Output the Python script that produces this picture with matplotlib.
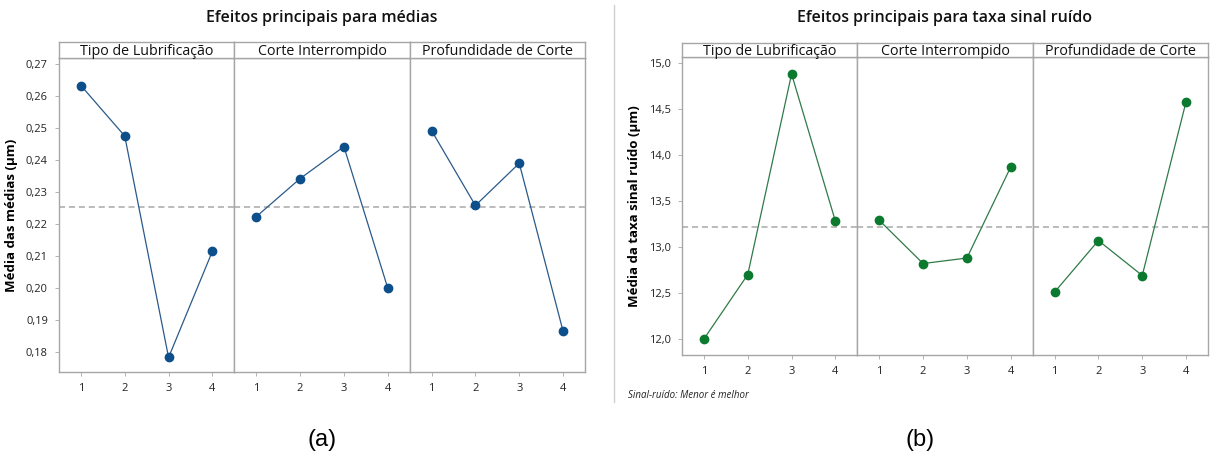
import matplotlib
matplotlib.use("Agg")
import matplotlib.pyplot as plt
from matplotlib.lines import Line2D
from matplotlib.ticker import FuncFormatter

plt.rcParams['font.family'] = ['Open Sans', 'DejaVu Sans']

factors = ["Tipo de Lubrificação", "Corte Interrompido", "Profundidade de Corte"]
levels = [1, 2, 3, 4]
level_labels = ["1", "2", "3", "4"]

# (a) means
means_tipo = [0.2633, 0.2475, 0.1783, 0.2115]
means_corte = [0.2223, 0.2342, 0.2442, 0.2000]
means_prof = [0.2492, 0.2258, 0.2390, 0.1865]
means_ref = 0.2253
means_yticks = [0.18, 0.19, 0.20, 0.21, 0.22, 0.23, 0.24, 0.25, 0.26, 0.27]

# (b) signal-noise
sn_tipo = [12.00, 12.70, 14.88, 13.28]
sn_corte = [13.29, 12.82, 12.88, 13.87]
sn_prof = [12.51, 13.07, 12.69, 14.58]
sn_ref = 13.215
sn_yticks = [12.0, 12.5, 13.0, 13.5, 14.0, 14.5, 15.0]

W, H = 1211, 461
fig = plt.figure(figsize=(W / 100, H / 100), dpi=100)

BORDER = "#a6a6a6"


def px_rect(x0, y0, x1, y1):
    return [x0 / W, 1 - y1 / H, (x1 - x0) / W, (y1 - y0) / H]


def panel(x0, x1, ytop, ybot, strip_top, series, ylim, yticks, yfmt,
          line_c, mark_c, ref, ylabel, title, title_y):
    w = (x1 - x0) / 3.0
    axes = []
    for i, (name, vals) in enumerate(zip(factors, series)):
        ax = fig.add_axes(px_rect(x0 + i * w, ytop, x0 + (i + 1) * w, ybot))
        ax.plot(levels, vals, color=line_c, lw=0.9, zorder=3)
        ax.plot(levels, vals, 'o', color=mark_c, ms=6, zorder=4)
        ax.axhline(ref, color="#a8a8a8", lw=1.1, ls=(0, (4, 2.5)), zorder=2)
        ax.set_xlim(0.5, 4.5)
        ax.set_ylim(*ylim)
        ax.set_xticks(levels)
        ax.set_xticklabels(level_labels)
        ax.set_yticks(yticks)
        ax.yaxis.set_major_formatter(FuncFormatter(yfmt))
        ax.tick_params(axis='both', labelsize=8, colors="#222222",
                       length=3, width=0.6, pad=5)
        ax.tick_params(axis='both', color=BORDER)
        for s in ax.spines.values():
            s.set_color(BORDER)
            s.set_linewidth(1.0)
        if i > 0:
            ax.tick_params(axis='y', left=False, labelleft=False)
        axes.append(ax)
        st = fig.add_axes(px_rect(x0 + i * w, strip_top, x0 + (i + 1) * w, ytop))
        st.set_xticks([])
        st.set_yticks([])
        for s in st.spines.values():
            s.set_color(BORDER)
            s.set_linewidth(1.0)
        st.text(0.5, 0.42, name, ha='center', va='center', fontsize=10.3,
                color="#111111", transform=st.transAxes)
    axes[0].set_ylabel(ylabel, fontsize=9.5, fontweight='bold', labelpad=6)
    fig.text((x0 + x1) / 2 / W, 1 - title_y / H, title, ha='center',
             va='center', fontsize=11.5, fontweight='semibold', color="#111111")
    return axes


fmt_means = lambda v, p: f"{v:.2f}".replace('.', ',')
fmt_sn = lambda v, p: f"{v:.1f}".replace('.', ',')

panel(59, 585, 58, 372, 42, [means_tipo, means_corte, means_prof],
      (0.17375, 0.2719), means_yticks, fmt_means,
      "#2a5a8a", "#0d4f8b", means_ref, "Média das médias (µm)",
      "Efeitos principais para médias", 18)

panel(682, 1208, 57, 355, 43, [sn_tipo, sn_corte, sn_prof],
      (11.826, 15.065), sn_yticks, fmt_sn,
      "#2f7a48", "#0b7a2e", sn_ref, "Média da taxa sinal ruído (µm)",
      "Efeitos principais para taxa sinal ruído", 18)

# separator line
fig.add_artist(Line2D([614 / W, 614 / W], [1 - 5 / H, 1 - 402 / H],
                      color="#cfcfcf", lw=1.0))

fig.text(628 / W, 1 - 395 / H, "Sinal-ruído: Menor é melhor", fontsize=7,
         style='italic', ha='left', va='center', color="#222222")

fig.text(322 / W, 1 - 440 / H, "(a)", fontsize=17, ha='center', va='center',
         family=['Liberation Sans', 'DejaVu Sans'])
fig.text(920 / W, 1 - 440 / H, "(b)", fontsize=17, ha='center', va='center',
         family=['Liberation Sans', 'DejaVu Sans'])

fig.savefig("out.png", dpi=100)
